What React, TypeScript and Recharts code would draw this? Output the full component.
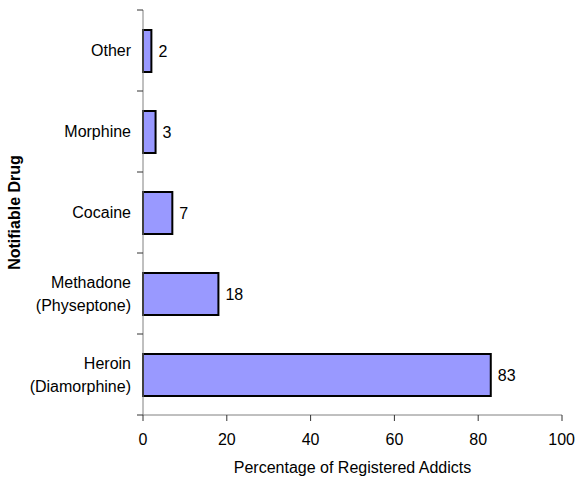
import React from 'react';
import { BarChart, Bar, XAxis, YAxis, LabelList, Label } from 'recharts';

const drugs = ['Other', 'Morphine', 'Cocaine', 'Methadone\n(Physeptone)', 'Heroin\n(Diamorphine)'];
const percentages = [2, 3, 7, 18, 83];
const xTicks = [0, 20, 40, 60, 80, 100];

const data = drugs.map((name, i) => ({ name, value: percentages[i] }));

const FONT = '"Liberation Sans", Arial, sans-serif';
const TOP = 10;
const BOTTOM = 415;
const BAND = (BOTTOM - TOP) / drugs.length;

// category tick: label text plus tick marks at the band edges
const DrugTick = (props: any) => {
  const { x, y, payload, index } = props;
  const lines = String(payload.value).split('\n');
  const axisX = x + 8;
  const lineGap = 23;
  const startDy = -((lines.length - 1) * lineGap) / 2;
  return (
    <g>
      <line x1={axisX - 6} x2={axisX} y1={y - BAND / 2} y2={y - BAND / 2} stroke="#333" />
      {index === drugs.length - 1 && (
        <line x1={axisX - 6} x2={axisX} y1={y + BAND / 2} y2={y + BAND / 2} stroke="#333" />
      )}
      <text x={x - 4} y={y} textAnchor="end" fontFamily={FONT} fontSize={16} fill="#000">
        {lines.map((l, i) => (
          <tspan key={i} x={x - 4} dy={i === 0 ? startDy + 5.5 : lineGap}>
            {l}
          </tspan>
        ))}
      </text>
    </g>
  );
};

export default function App() {
  return (
    <div style={{ position: 'absolute', left: 0, top: 0, width: 575, height: 479, background: '#fff' }}>
      <BarChart
        width={575}
        height={479}
        data={data}
        layout="vertical"
        margin={{ top: TOP, right: 13, bottom: 0, left: 0 }}
        barCategoryGap={0}
      >
        <XAxis
          type="number"
          domain={[0, 100]}
          ticks={xTicks}
          height={64}
          stroke="#808080"
          tickLine={{ stroke: '#333' }}
          tickSize={6}
          tick={{ fill: '#000', fontSize: 16, fontFamily: FONT }}
          tickMargin={13}
        >
          <Label
            value="Percentage of Registered Addicts"
            position="insideBottom"
            offset={6}
            style={{ fill: '#000', fontSize: 16, fontFamily: FONT }}
          />
        </XAxis>
        <YAxis
          type="category"
          dataKey="name"
          width={143}
          stroke="#808080"
          tickLine={false}
          tick={<DrugTick />}
          interval={0}
        >
          <Label
            value="Notifiable Drug"
            angle={-90}
            position="insideLeft"
            offset={14}
            style={{ fill: '#000', fontSize: 16, fontWeight: 'bold', fontFamily: FONT, textAnchor: 'middle' }}
          />
        </YAxis>
        <Bar dataKey="value" fill="#9999FF" stroke="#000" strokeWidth={2} barSize={42} isAnimationActive={false}>
          <LabelList
            dataKey="value"
            position="right"
            offset={7}
            style={{ fill: '#000', fontSize: 16, fontFamily: FONT }}
          />
        </Bar>
      </BarChart>
    </div>
  );
}
